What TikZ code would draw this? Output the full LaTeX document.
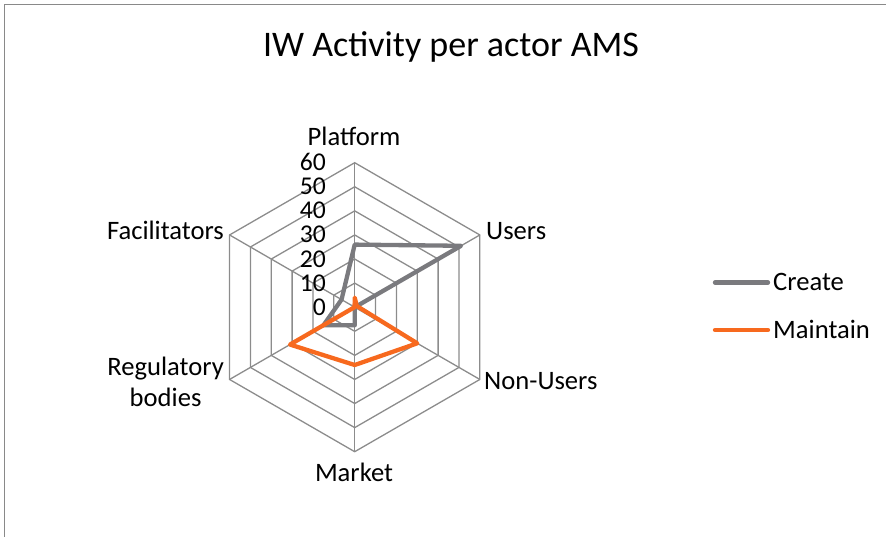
\documentclass[tikz,border=0pt]{standalone}
\usepackage{fontspec}
\setmainfont{Carlito}
\definecolor{gridgray}{HTML}{8C8C8C}
\definecolor{creategray}{HTML}{7A7A7E}
\definecolor{maintainorange}{HTML}{F7691E}
\definecolor{framegray}{HTML}{898989}

\begin{document}
\begin{tikzpicture}[x=1pt,y=-1pt,
  grid/.style={draw=gridgray,line width=1.3pt},
  series/.style={line width=4.3pt,line join=round,line cap=round},
  lbl/.style={font=\fontsize{26.6}{31}\selectfont,inner sep=0pt},
  ticklbl/.style={font=\fontsize{25.6}{30}\selectfont,inner sep=0pt,anchor=base east},
]
\useasboundingbox (0,0) rectangle (886,536);
% chart area frame (right and bottom edges fall outside the page)
\draw[framegray,line width=1.5pt] (4.5,4.5) rectangle (900,550);

% title
\node[font=\fontsize{36}{40}\selectfont,inner sep=0pt,anchor=base] (title) at (451,56) {IW Activity per actor AMS};

\begin{scope}[shift={(354.7,307.2)}]
  % radar grid: six rings (10 to 60) and six spokes
  \foreach \v in {10,20,...,60}{
    \pgfmathsetmacro\r{\v*2.4083}
    \draw[grid] (-90:\r) -- (-30:\r) -- (30:\r) -- (90:\r) -- (150:\r) -- (210:\r) -- cycle;
  }
  \coordinate (o) at (0,0);
  \foreach \a/\n in {-90/pf,-30/us,30/nu,90/mk,150/rb,210/fa}
    \draw[grid] (o) -- (\a:144.5) coordinate (ax-\n);

  % series "Create"
  \coordinate (c1) at (-90:62.6);
  \coordinate (c2) at (-30:122.8);
  \coordinate (c3) at (30:0.1);
  \coordinate (c4) at (90:18.1);
  \coordinate (c5) at (150:36.1);
  \coordinate (c6) at (210:15.2);
  \draw[series,creategray] (c1) -- (c2) -- (c3) -- (c4) -- (c5) -- (c6) -- cycle;

  % series "Maintain"
  \coordinate (m1) at (-90:9.6);
  \coordinate (m2) at (-30:2.4);
  \coordinate (m3) at (30:72.2);
  \coordinate (m4) at (90:57.8);
  \coordinate (m5) at (150:74.7);
  \coordinate (m6) at (210:0.1);
  \draw[series,maintainorange] (m1) -- (m2) -- (m3) -- (m4) -- (m5) -- (m6) -- cycle;
\end{scope}

% value axis labels
\foreach \v in {0,10,...,60}{
  \pgfmathsetmacro\yy{307.2-\v*2.4083+8}
  \node[ticklbl] (tick\v) at (326,\yy) {\v};
}

% category labels
\node[lbl,anchor=base] (lpf) at (354,145) {Platform};
\node[lbl,anchor=base west] (lus) at (486,239) {Users};
\node[lbl,anchor=base west] (lnu) at (484,389) {Non-Users};
\node[lbl,anchor=base] (lmk) at (354,481) {Market};
\node[lbl,anchor=east,align=center] (lrb) at (224,382) {Regulatory\\bodies};
\node[lbl,anchor=base east] (lfa) at (224,239) {Facilitators};

% legend
\coordinate (kc1) at (715,282.5);
\coordinate (kc2) at (768,282.5);
\coordinate (km1) at (715,330);
\coordinate (km2) at (768,330);
\draw[series,creategray] (kc1) -- (kc2);
\draw[series,maintainorange] (km1) -- (km2);
\node[lbl,anchor=base west] (lcreate) at (773,290.5) {Create};
\node[lbl,anchor=base west] (lmaint) at (773,338) {Maintain};
\end{tikzpicture}
\end{document}
